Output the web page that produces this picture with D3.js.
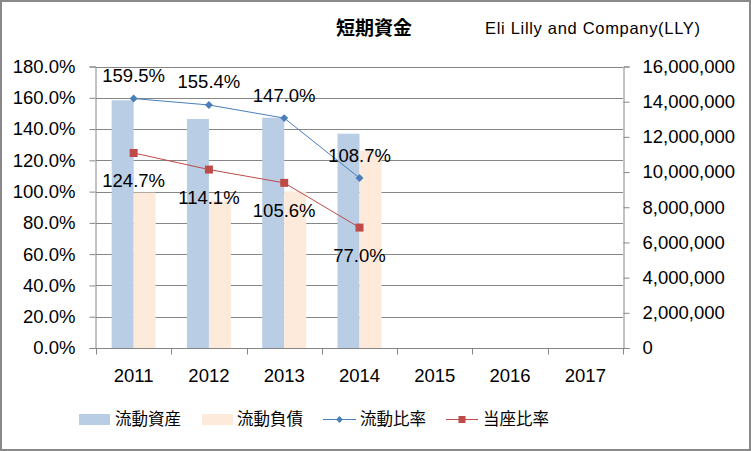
<!DOCTYPE html>
<html>
<head>
<meta charset="utf-8">
<script src="https://cdn.jsdelivr.net/npm/d3@7"></script>
<style>
body { margin: 0; background: #fff; }
text { font-family: "Liberation Sans", Arial, sans-serif; fill: #000; }
.jp { font-family: "Noto Sans CJK JP", sans-serif; }
</style>
</head>
<body>
<div id="chart"></div>
<script>
const years = ['2011','2012','2013','2014','2015','2016','2017']
const assets = [14080000, 13020000, 13090000, 12180000]
const liabilities = [8830000, 8380000, 8900000, 11210000]
const currentRatio = [159.5, 155.4, 147.0, 108.7]
const quickRatio = [124.7, 114.1, 105.6, 77.0]
const leftTicks = [0, 20, 40, 60, 80, 100, 120, 140, 160, 180]
const rightTicks = [0, 2e6, 4e6, 6e6, 8e6, 10e6, 12e6, 14e6, 16e6]

const width = 751
const height = 451
const plotL = 96, plotR = 623, plotT = 66.5, plotB = 348

var svg = d3.select('#chart').append('svg').attr('width', width).attr('height', height)

svg.append('rect').attr('x', 1).attr('y', 1).attr('width', 749).attr('height', 449)
  .attr('fill', '#fff').attr('stroke', '#898989').attr('stroke-width', 2)

var x = d3.scaleBand().domain(years).range([plotL, plotR])
var yl = d3.scaleLinear().domain([0, 180]).range([plotB, plotT])
var yr = d3.scaleLinear().domain([0, 16e6]).range([plotB, plotT])
var barW = 22

// gridlines
svg.append('g').selectAll('line').data(leftTicks.slice(1)).join('line')
  .attr('x1', plotL).attr('x2', plotR)
  .attr('y1', d => Math.round(yl(d)) + 0.5).attr('y2', d => Math.round(yl(d)) + 0.5)
  .attr('stroke', '#868686')

// bars
svg.append('g').selectAll('rect').data(assets).join('rect')
  .attr('x', (d, i) => x(years[i]) + x.bandwidth() / 2 - barW)
  .attr('y', d => yr(d)).attr('width', barW).attr('height', d => plotB - yr(d))
  .attr('fill', '#B9CDE5')
svg.append('g').selectAll('rect').data(liabilities).join('rect')
  .attr('x', (d, i) => x(years[i]) + x.bandwidth() / 2)
  .attr('y', d => yr(d)).attr('width', barW).attr('height', d => plotB - yr(d))
  .attr('fill', '#FDEADA')

// axes
var leftAxis = d3.axisLeft(yl).tickValues(leftTicks).tickSize(6).tickPadding(14)
  .tickFormat(d => d.toFixed(1) + '%')
var rightAxis = d3.axisRight(yr).tickValues(rightTicks).tickSize(6).tickPadding(13)
  .tickFormat(d3.format(','))
var bottomAxis = d3.axisBottom(x).tickSize(0).tickPadding(20)

function styleAxis(g) {
  g.select('.domain').attr('stroke', '#868686')
  g.selectAll('.tick line').attr('stroke', '#868686')
  g.selectAll('.tick text').attr('font-size', '18.5px')
    .attr('font-family', '"Liberation Sans", Arial, sans-serif').attr('fill', '#000')
}

svg.append('g').attr('transform', `translate(${plotL - 0.5},0)`).call(leftAxis).call(styleAxis)
svg.append('g').attr('transform', `translate(${plotR + 0.5},0)`).call(rightAxis).call(styleAxis)
var bx = svg.append('g').attr('transform', `translate(0,${plotB + 0.5})`).call(bottomAxis).call(styleAxis)
bx.select('.domain').attr('d', `M${plotL},0H${plotR + 6}`)
bx.selectAll('.tick text').attr('dy', '0.71em')
// category boundary ticks
bx.append('g').selectAll('line').data(years.concat(['end'])).join('line')
  .attr('x1', (d, i) => Math.round(plotL + i * x.bandwidth()) + 0.5)
  .attr('x2', (d, i) => Math.round(plotL + i * x.bandwidth()) + 0.5)
  .attr('y1', 0).attr('y2', 6).attr('stroke', '#868686')

// lines
var cx = i => x(years[i]) + x.bandwidth() / 2
var line = d3.line().x((d, i) => cx(i)).y(d => yl(d))

svg.append('path').datum(currentRatio).attr('d', line)
  .attr('fill', 'none').attr('stroke', '#4A7EBB').attr('stroke-width', 1)
svg.append('path').datum(quickRatio).attr('d', line)
  .attr('fill', 'none').attr('stroke', '#BE4B48').attr('stroke-width', 1)

svg.append('g').selectAll('path').data(currentRatio).join('path')
  .attr('d', d3.symbol().type(d3.symbolDiamond2).size(40))
  .attr('transform', (d, i) => `translate(${cx(i)},${yl(d)})`)
  .attr('fill', '#4A7EBB')
svg.append('g').selectAll('rect').data(quickRatio).join('rect')
  .attr('x', (d, i) => cx(i) - 4).attr('y', d => yl(d) - 4)
  .attr('width', 8).attr('height', 8).attr('fill', '#BE4B48')

// data labels
svg.append('g').selectAll('text').data(currentRatio).join('text')
  .attr('x', (d, i) => cx(i)).attr('y', d => yl(d) - 16.5)
  .attr('text-anchor', 'middle').attr('font-size', '18.5px')
  .text(d => d.toFixed(1) + '%')
svg.append('g').selectAll('text').data(quickRatio).join('text')
  .attr('x', (d, i) => cx(i)).attr('y', d => yl(d) + 34)
  .attr('text-anchor', 'middle').attr('font-size', '18.5px')
  .text(d => d.toFixed(1) + '%')

// titles
svg.append('text').attr('class', 'jp').attr('x', 336).attr('y', 35)
  .attr('font-size', '19px').attr('font-weight', 'bold').text('短期資金')
svg.append('text').attr('x', 485).attr('y', 34)
  .attr('font-size', '16.5px').attr('textLength', 215).attr('lengthAdjust', 'spacing')
  .text('Eli Lilly and Company(LLY)')

// legend
var legend = svg.append('g')
legend.append('rect').attr('x', 79).attr('y', 414).attr('width', 31).attr('height', 11).attr('fill', '#B9CDE5')
legend.append('text').attr('class', 'jp').attr('x', 115).attr('y', 425).attr('font-size', '16.5px').text('流動資産')
legend.append('rect').attr('x', 202).attr('y', 414).attr('width', 31).attr('height', 11).attr('fill', '#FDEADA')
legend.append('text').attr('class', 'jp').attr('x', 237).attr('y', 425).attr('font-size', '16.5px').text('流動負債')
legend.append('line').attr('x1', 323).attr('x2', 356).attr('y1', 419.5).attr('y2', 419.5).attr('stroke', '#4A7EBB')
legend.append('path').attr('d', d3.symbol().type(d3.symbolDiamond2).size(30))
  .attr('transform', 'translate(339.5,419.5)').attr('fill', '#4A7EBB')
legend.append('text').attr('class', 'jp').attr('x', 360).attr('y', 425).attr('font-size', '16.5px').text('流動比率')
legend.append('line').attr('x1', 446).attr('x2', 478).attr('y1', 419.5).attr('y2', 419.5).attr('stroke', '#BE4B48')
legend.append('rect').attr('x', 458.5).attr('y', 416).attr('width', 7).attr('height', 7).attr('fill', '#BE4B48')
legend.append('text').attr('class', 'jp').attr('x', 483).attr('y', 425).attr('font-size', '16.5px').text('当座比率')
</script>
</body>
</html>
